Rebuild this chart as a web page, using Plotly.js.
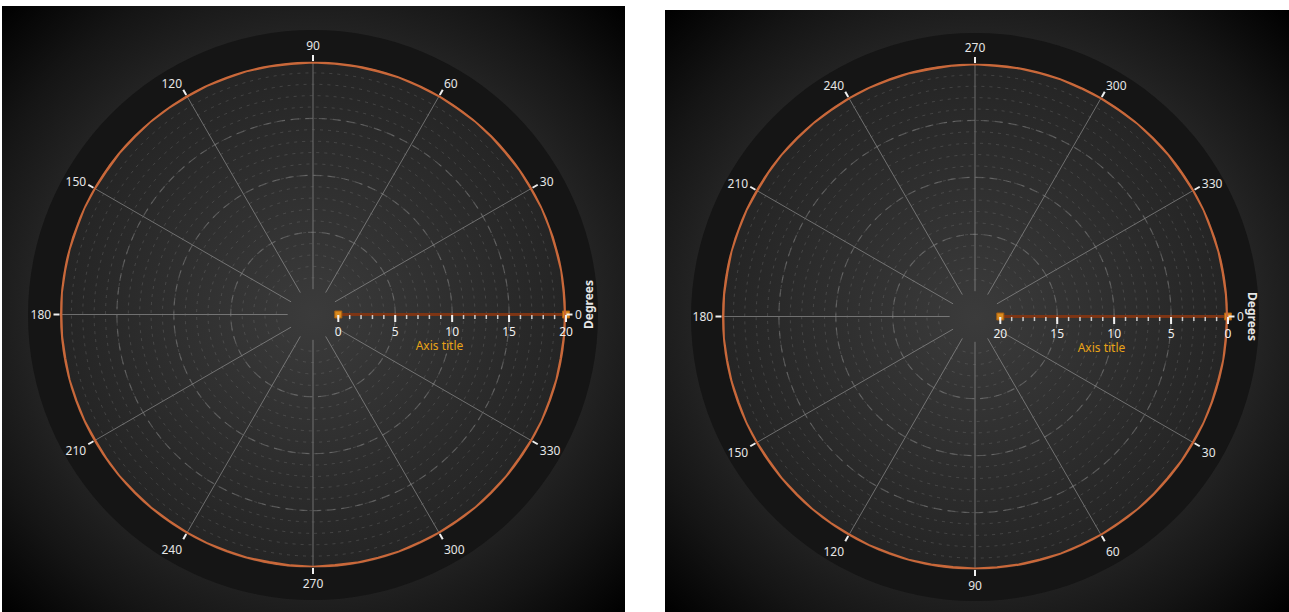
<!DOCTYPE html>
<html>
<head>
<meta charset="utf-8">
<script src="https://cdn.plot.ly/plotly-3.0.1.min.js"></script>
<style>
  html, body { margin:0; padding:0; background:#ffffff; width:1289px; height:612px; overflow:hidden; }
  .panel { position:absolute; overflow:hidden;
    background: radial-gradient(farthest-corner at 50% 50%, #3a3a3a 0%, #2b2b2b 55%, #151515 80%, #000000 100%); }
  .ring { position:absolute; border-radius:50%; background:#151515; }
  .disk { position:absolute; border-radius:50%;
    background: radial-gradient(circle at 50% 50%, #3b3b3b 0%, #303030 35%, #252525 70%, #1b1b1b 100%); }
  .plot { position:absolute; left:0; top:0; }
</style>
</head>
<body>
<div class="panel" style="left:2px;top:6px;width:623px;height:606px;">
  <div class="ring" style="left:26px;top:23.5px;width:570px;height:570px;"></div>
  <div class="disk" style="left:58px;top:55.5px;width:506px;height:506px;"></div>
  <div id="plotL" class="plot" style="width:623px;height:606px;"></div>
</div>
<div class="panel" style="left:665px;top:10px;width:624px;height:602px;">
  <div class="ring" style="left:26px;top:22.5px;width:568px;height:568px;"></div>
  <div class="disk" style="left:57px;top:53.5px;width:506px;height:506px;"></div>
  <div id="plotR" class="plot" style="width:624px;height:602px;"></div>
</div>
<script>
// ---- data ----
const angleDeg = [0,5,10,15,20,25,30,35,40,45,50,55,60,65,70,75,80,85,90,95,100,105,110,115,120,
                  125,130,135,140,145,150,155,160,165,170,175,180,185,190,195,200,205,210,215,220,
                  225,230,235,240,245,250,255,260,265,270,275,280,285,290,295,300,305,310,315,320,
                  325,330,335,340,345,350,355,360];
const leftSeries = [19.96,19.93,19.97,19.92,19.95,19.98,19.93,19.96,19.91,19.95,19.97,19.92,19.96,
                    19.94,19.98,19.92,19.95,19.93,19.97,19.91,19.95,19.98,19.93,19.96,19.92,19.95,
                    19.97,19.93,19.96,19.91,19.95,19.98,19.92,19.96,19.94,19.97,19.93,19.95,19.92,
                    19.97,19.94,19.96,19.91,19.95,19.98,19.93,19.96,19.92,19.95,19.97,19.93,19.96,
                    19.91,19.95,19.98,19.92,19.96,19.94,19.97,19.93,19.95,19.92,19.97,19.94,19.96,
                    19.91,19.95,19.98,19.93,19.96,19.92,19.95,19.96];
const rightSeries = [0.04,0.07,0.03,0.08,0.05,0.02,0.07,0.04,0.09,0.05,0.03,0.08,0.04,
                     0.06,0.02,0.08,0.05,0.07,0.03,0.09,0.05,0.02,0.07,0.04,0.08,0.05,
                     0.03,0.07,0.04,0.09,0.05,0.02,0.08,0.04,0.06,0.03,0.07,0.05,0.08,
                     0.03,0.06,0.04,0.09,0.05,0.02,0.07,0.04,0.08,0.05,0.03,0.07,0.04,
                     0.09,0.05,0.02,0.08,0.04,0.06,0.03,0.07,0.05,0.08,0.03,0.06,0.04,
                     0.09,0.05,0.02,0.07,0.04,0.08,0.05,0.04];
const angularTicks = [0,30,60,90,120,150,180,210,240,270,300,330];
const angularTickText = ['0','30','60','90','120','150','180','210','240','270','300','330'];
const radialMinorTicks = [0,1,2,3,4,5,6,7,8,9,10,11,12,13,14,15,16,17,18,19,20];
const radialMajorTicks = [0,5,10,15,20];
const radialRange = [0,20];
const rangeBarR = [0,20];
const rangeBarTheta = [0,0];

const FONT = '"Noto Sans", "Open Sans", sans-serif';

function buildChart(divId, series, dir, reversed, dom, degPos, degAngle) {
  const range = reversed ? [radialRange[1], radialRange[0]] : radialRange;
  const traces = [
    { type:'scatterpolar', subplot:'polar', r: rangeBarR, theta: rangeBarTheta,
      mode:'lines+markers', line:{color:'#7e3514', width:3},
      marker:{symbol:'square', size:7, color:'#d88a1e', line:{color:'#a85e10', width:1}},
      hoverinfo:'skip', showlegend:false, cliponaxis:false },
    { type:'scatterpolar', subplot:'polar2', r: series, theta: angleDeg,
      mode:'lines', line:{color:'#c9683a', width:3.2},
      showlegend:false, name:'Series' }
  ];
  const radialBase = { range: range, autorange:false, showline:false };
  const layout = {
    width: dom.w, height: dom.h,
    margin:{l:0,r:0,t:0,b:0},
    paper_bgcolor:'rgba(0,0,0,0)',
    plot_bgcolor:'rgba(0,0,0,0)',
    font:{family:FONT, color:'#e6e6e6', size:12},
    showlegend:false,
    polar:{
      domain:{x:dom.x, y:dom.y}, hole:0.1, bgcolor:'rgba(0,0,0,0)',
      radialaxis: Object.assign({}, radialBase, {
        tickmode:'array', tickvals: radialMinorTicks, ticks:'outside', ticklen:4, tickwidth:1.5,
        tickcolor:'#cfcfcf', showticklabels:false, showgrid:true,
        gridcolor:'rgba(120,120,120,0.35)', griddash:'3px,5px', gridwidth:1
      }),
      angularaxis:{
        direction: dir, rotation:0, tickmode:'array', tickvals: angularTicks, ticktext: angularTickText,
        ticks:'outside', ticklen:6, tickwidth:2, tickcolor:'#f0f0f0', showline:false,
        gridcolor:'rgba(170,170,170,0.55)', gridwidth:1,
        tickfont:{family:FONT, color:'#e6e6e6', size:12}
      }
    },
    polar2:{
      domain:{x:dom.x, y:dom.y}, hole:0.1, bgcolor:'rgba(0,0,0,0)',
      radialaxis: Object.assign({}, radialBase, {
        tickmode:'array', tickvals: radialMajorTicks, ticks:'outside', ticklen:7, tickwidth:2,
        tickcolor:'#f0f0f0', showticklabels:true,
        tickfont:{family:FONT, color:'#f0f0f0', size:12},
        showgrid:true, gridcolor:'rgba(140,140,140,0.45)', griddash:'8px,6px', gridwidth:1.2,
        title:{text:'Axis title', font:{family:FONT, color:'#e8a317', size:12}}
      }),
      angularaxis:{ direction: dir, rotation:0, visible:false }
    },
    annotations:[
      { text:'<b>Degrees</b>', xref:'paper', yref:'paper', x: degPos[0], y: degPos[1],
        xanchor:'center', yanchor:'middle', textangle: degAngle, showarrow:false,
        font:{family:FONT, color:'#e6e6e6', size:12} }
    ]
  };
  Plotly.newPlot(divId, traces, layout, {staticPlot:true, displayModeBar:false});
}

buildChart('plotL', leftSeries, 'counterclockwise', false,
  {w:623, h:606, x:[58/623, 564/623], y:[44.5/606, 550.5/606]},
  [587/623, 1 - 299/606], -90);
buildChart('plotR', rightSeries, 'clockwise', true,
  {w:624, h:602, x:[57/624, 563/624], y:[42.5/602, 548.5/602]},
  [588/624, 1 - 306/602], 90);
</script>
</body>
</html>
